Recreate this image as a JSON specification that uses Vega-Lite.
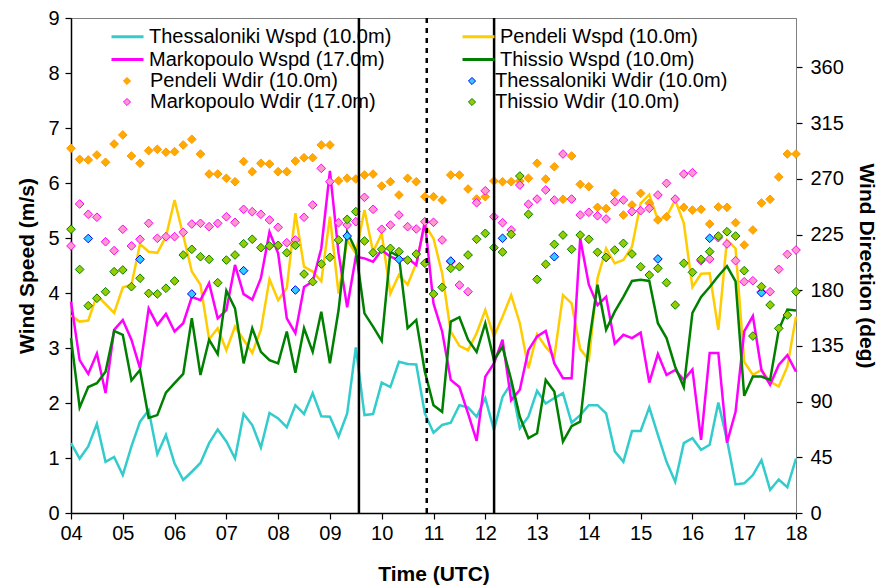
{
  "$schema": "https://vega.github.io/schema/vega-lite/v6.json",
  "width": 725,
  "height": 495,
  "autosize": {"type": "none"},
  "padding": {"left": 71, "top": 18, "right": 87, "bottom": 73},
  "background": "white",
  "config": {
    "font": "Liberation Sans",
    "view": {"stroke": "#808080", "strokeWidth": 1},
    "axis": {
      "labelFont": "Liberation Sans", "labelFontSize": 20, "labelColor": "black",
      "titleFont": "Liberation Sans", "titleFontSize": 21, "titleFontWeight": "bold", "titleColor": "black",
      "grid": false, "tickColor": "black", "domainColor": "black", "tickSize": 6,
      "domainWidth": 1.5, "tickWidth": 1.2, "labelFlush": false, "labelOverlap": false
    },
    "legend": {"labelFont": "Liberation Sans", "labelFontSize": 20, "labelColor": "black", "padding": 0, "rowPadding": 1, "labelLimit": 500}
  },
  "datasets": {
    "wind": [
      {"t":4,"TW":1.27,"PW":3.59,"MW":3.84,"HW":3.18,"PD":294.7,"MD":215.8,"HD":229.3},
      {"t":4.167,"TW":0.99,"PW":3.48,"MW":2.78,"HW":1.92,"PD":285.8,"MD":249.7,"HD":196.8},
      {"t":4.333,"TW":1.21,"PW":3.5,"MW":2.53,"HW":2.29,"PD":285.3,"MD":241.4,"TD":221.8,"HD":167.5},
      {"t":4.5,"TW":1.62,"PW":3.96,"MW":2.9,"HW":2.36,"PD":289.3,"MD":239,"HD":173.5},
      {"t":4.667,"TW":0.93,"PW":3.8,"MW":2.18,"HW":2.57,"PD":283.4,"MD":219.2,"HD":178.8},
      {"t":4.833,"TW":1.02,"PW":3.64,"MW":3.33,"HW":3.31,"PD":298.2,"MD":212,"HD":195},
      {"t":5,"TW":0.69,"PW":4.1,"MW":3.51,"HW":3.24,"PD":305.5,"MD":229.3,"HD":196.4},
      {"t":5.167,"TW":1.21,"PW":4.15,"MW":3.15,"HW":2.41,"PD":288.5,"MD":215.8,"HD":182.9},
      {"t":5.333,"TW":1.66,"PW":4.89,"MW":2.63,"HW":2.6,"PD":282.6,"MD":221.2,"TD":205,"HD":189.7},
      {"t":5.5,"TW":1.87,"PW":4.75,"MW":3.72,"HW":1.73,"PD":292.8,"MD":234.1,"HD":177.5},
      {"t":5.667,"TW":1.07,"PW":4.73,"MW":3.42,"HW":1.78,"PD":293.9,"MD":222,"HD":177},
      {"t":5.833,"TW":1.42,"PW":5.02,"MW":3.62,"HW":2.19,"PD":291.5,"MD":223.3,"HD":181.6},
      {"t":6,"TW":0.9,"PW":5.69,"MW":3.3,"HW":2.36,"PD":292,"MD":223.3,"HD":187.5},
      {"t":6.167,"TW":0.6,"PW":5.05,"MW":3.45,"HW":2.53,"PD":297.4,"MD":226.8,"HD":208.5},
      {"t":6.333,"TW":0.75,"PW":4.39,"MW":3.93,"HW":3.54,"PD":302,"MD":233.5,"TD":177,"HD":213.1},
      {"t":6.5,"TW":0.91,"PW":4.15,"MW":3.87,"HW":2.51,"PD":290.1,"MD":234.1,"HD":207.1},
      {"t":6.667,"TW":1.27,"PW":3.16,"MW":4.18,"HW":3.15,"PD":273.9,"MD":231.4,"HD":205},
      {"t":6.833,"TW":1.52,"PW":3.36,"MW":3.54,"HW":2.89,"PD":273.9,"MD":234.1,"HD":186.1},
      {"t":7,"TW":1.3,"PW":2.96,"MW":3.69,"HW":4.04,"PD":270.5,"MD":239.4,"HD":204.4},
      {"t":7.167,"TW":0.99,"PW":3.39,"MW":4.51,"HW":3.72,"PD":267.7,"MD":234.9,"HD":208.5},
      {"t":7.333,"TW":1.8,"PW":3.15,"MW":3.98,"HW":2.72,"PD":284,"MD":245.4,"TD":195.8,"HD":217.6},
      {"t":7.5,"TW":1.6,"PW":2.91,"MW":3.88,"HW":3.36,"PD":275.8,"MD":243.5,"HD":221.2},
      {"t":7.667,"TW":1.19,"PW":3.33,"MW":4.27,"HW":2.93,"PD":282.6,"MD":241.4,"HD":214.4},
      {"t":7.833,"TW":1.82,"PW":4.25,"MW":5.11,"HW":2.78,"PD":282,"MD":236.8,"HD":215.8},
      {"t":8,"TW":1.72,"PW":3.87,"MW":4.72,"HW":2.72,"PD":275.8,"MD":230.9,"HD":216.3},
      {"t":8.167,"TW":1.56,"PW":4.09,"MW":3.54,"HW":3.3,"PD":275.8,"MD":218.4,"HD":210.3},
      {"t":8.333,"TW":1.96,"PW":5.45,"MW":3.27,"HW":2.55,"PD":284.4,"MD":220.6,"TD":180.2,"HD":216.3},
      {"t":8.5,"TW":1.8,"PW":4.48,"MW":4.11,"HW":3.36,"PD":287.1,"MD":239,"HD":193.1},
      {"t":8.667,"TW":2.18,"PW":4.39,"MW":4.21,"HW":2.93,"PD":287.1,"MD":248.9,"HD":186.9},
      {"t":8.833,"TW":1.76,"PW":4.21,"MW":4.81,"HW":3.66,"PD":297.4,"MD":278.5,"HD":201.2},
      {"t":9,"TW":1.75,"PW":5.39,"MW":6.22,"HW":2.72,"PD":297.4,"MD":267.7,"HD":206.6},
      {"t":9.167,"TW":1.39,"PW":3.99,"MW":4.72,"HW":3.69,"PD":268.5,"MD":234.6,"HD":220.6},
      {"t":9.333,"TW":1.81,"PW":4.96,"MW":3.74,"HW":5.11,"PD":270.5,"MD":232.7,"TD":223.8,"HD":237.3},
      {"t":9.5,"TW":3.01,"PW":4.72,"MW":4.66,"HW":4.78,"PD":269.9,"MD":235.4,"HD":243.5},
      {"t":9.667,"TW":1.78,"PW":5.51,"MW":4.63,"HW":3.63,"PD":273.1,"MD":255.1,"HD":219.8},
      {"t":9.833,"TW":1.8,"PW":4.75,"MW":4.57,"HW":3.39,"PD":273.9,"MD":245.4,"HD":210.3},
      {"t":10,"TW":2.37,"PW":5.08,"MW":4.78,"HW":3.13,"PD":264.2,"MD":229.3,"HD":213.1},
      {"t":10.167,"TW":2.29,"PW":3.99,"MW":4.66,"HW":4.75,"PD":267.7,"MD":232.7,"HD":213.9},
      {"t":10.333,"TW":2.75,"PW":4.33,"MW":4.6,"HW":4.66,"PD":257,"MD":240.8,"TD":205,"HD":211.2},
      {"t":10.5,"TW":2.71,"PW":4.15,"MW":4.63,"HW":3.36,"PD":270.5,"MD":231.4,"HD":204.4},
      {"t":10.667,"TW":2.7,"PW":4.54,"MW":4.51,"HW":3.51,"PD":267.7,"MD":229.5,"HD":209.3},
      {"t":10.833,"TW":1.81,"PW":5.24,"MW":5.3,"HW":2.57,"PD":255.6,"MD":235.4,"HD":201.8},
      {"t":11,"TW":1.46,"PW":4.99,"MW":3.81,"HW":1.96,"PD":255.6,"MD":234.9,"HD":177},
      {"t":11.167,"TW":1.6,"PW":4.36,"MW":3.3,"HW":1.84,"PD":252.9,"MD":220.6,"HD":182.4},
      {"t":11.333,"TW":1.64,"PW":3.3,"MW":2.42,"HW":3.48,"PD":273.1,"MD":203.1,"TD":203.6,"HD":197.7},
      {"t":11.5,"TW":1.96,"PW":3.04,"MW":2.29,"HW":3.56,"PD":273.1,"MD":184.2,"HD":199},
      {"t":11.667,"TW":1.92,"PW":2.96,"MW":1.81,"HW":3.15,"PD":261.8,"MD":178.8,"HD":208.5},
      {"t":11.833,"TW":1.75,"PW":3.27,"MW":1.31,"HW":2.93,"PD":253.7,"MD":250.7,"HD":221.2},
      {"t":12,"TW":2.09,"PW":3.69,"MW":2.48,"HW":3.45,"PD":255.6,"MD":260.4,"HD":226},
      {"t":12.167,"TW":1.51,"PW":3.21,"MW":2.72,"HW":2.78,"PD":268.3,"MD":239.4,"HD":214.4},
      {"t":12.333,"TW":2.11,"PW":3.57,"MW":3.15,"HW":3.02,"PD":267.7,"MD":234.6,"TD":222,"HD":210.9},
      {"t":12.5,"TW":2.36,"PW":3.96,"MW":2.05,"HW":2.42,"PD":267.7,"MD":228.7,"HD":225.2},
      {"t":12.667,"TW":1.54,"PW":3.45,"MW":2.24,"HW":1.75,"PD":268.3,"MD":265,"HD":272.3},
      {"t":12.833,"TW":1.75,"PW":2.63,"MW":2.96,"HW":1.36,"PD":270.5,"MD":249.5,"HD":241.4},
      {"t":13,"TW":2.22,"PW":3.25,"MW":3.21,"HW":1.45,"PD":282.6,"MD":253.7,"HD":188.8},
      {"t":13.167,"TW":1.99,"PW":3.02,"MW":3.31,"HW":2.42,"PD":269.9,"MD":261,"HD":201},
      {"t":13.333,"TW":2.09,"PW":2.84,"MW":2.72,"HW":2.21,"PD":279.8,"MD":252.9,"TD":207.1,"HD":217.1},
      {"t":13.5,"TW":2.18,"PW":3.96,"MW":2.45,"HW":1.3,"PD":253.5,"MD":290.1,"HD":224.6},
      {"t":13.667,"TW":1.64,"PW":3.81,"MW":2.45,"HW":1.58,"PD":288.5,"MD":253.7,"HD":213.1},
      {"t":13.833,"TW":1.78,"PW":2.98,"MW":4.99,"HW":1.66,"PD":265.6,"MD":240.8,"HD":224.6},
      {"t":14,"TW":1.96,"PW":2.78,"MW":4.15,"HW":3.08,"PD":263.7,"MD":243,"HD":221.2},
      {"t":14.167,"TW":1.96,"PW":4.27,"MW":3.78,"HW":4.15,"PD":247,"MD":240.2,"HD":210.7},
      {"t":14.333,"TW":1.81,"PW":4.81,"MW":3.93,"HW":3.33,"PD":246,"MD":237.6,"TD":206.6,"HD":206.6},
      {"t":14.5,"TW":1.12,"PW":4.54,"MW":3.08,"HW":3.66,"PD":258.3,"MD":251.6,"HD":212.5},
      {"t":14.667,"TW":0.93,"PW":4.6,"MW":3.24,"HW":3.93,"PD":240.8,"MD":252.9,"HD":217.9},
      {"t":14.833,"TW":1.49,"PW":4.84,"MW":3.18,"HW":4.22,"PD":248.9,"MD":243.5,"HD":209.3},
      {"t":15,"TW":1.49,"PW":5.63,"MW":3.28,"HW":4.24,"PD":258.3,"MD":244.3,"HD":199},
      {"t":15.167,"TW":1.92,"PW":5.79,"MW":2.37,"HW":4.22,"PD":250.3,"MD":246.2,"HD":192.3},
      {"t":15.333,"TW":1.42,"PW":5.33,"MW":2.89,"HW":3.45,"PD":236.8,"MD":257,"TD":205.3,"HD":197.7},
      {"t":15.5,"TW":0.93,"PW":5.39,"MW":2.51,"HW":3.18,"PD":239.4,"MD":266.4,"HD":186.1},
      {"t":15.667,"TW":0.57,"PW":5.69,"MW":2.6,"HW":2.66,"MD":253.7,"HD":168.1},
      {"t":15.833,"TW":1.27,"PW":5.27,"MW":2.42,"HW":2.29,"PD":247,"MD":273.9,"HD":201.8},
      {"t":16,"TW":1.36,"PW":4.11,"MW":2.61,"HW":3.64,"PD":244.8,"MD":275,"HD":194.5},
      {"t":16.167,"TW":1.15,"PW":4.35,"MW":1.33,"HW":3.93,"PD":245.4,"MD":203.9,"HD":205},
      {"t":16.333,"TW":1.24,"PW":4.36,"MW":2.91,"HW":4.11,"PD":233.5,"MD":205.3,"TD":222,"HD":211.2},
      {"t":16.5,"TW":2.01,"PW":3.33,"MW":2.91,"HW":4.31,"PD":247.3,"MD":222.5,"HD":223.8},
      {"t":16.667,"TW":1.33,"PW":4.96,"MW":1.28,"HW":4.49,"PD":247,"MD":217.4,"HD":227.3},
      {"t":16.833,"TW":0.52,"PW":4.81,"MW":1.84,"HW":4.21,"PD":234.6,"MD":203.9,"HD":223.8},
      {"t":17,"TW":0.54,"PW":2.75,"MW":3.3,"HW":2.13,"PD":216.6,"MD":186.9,"HD":195.8},
      {"t":17.167,"TW":0.69,"PW":2.51,"MW":3.58,"HW":2.48,"PD":228.7,"MD":187.7,"HD":143},
      {"t":17.333,"TW":0.96,"PW":2.6,"MW":2.6,"HW":2.48,"PD":250.5,"MD":178.8,"TD":178,"HD":182.9},
      {"t":17.5,"TW":0.42,"PW":2.39,"MW":2.33,"HW":2.42,"PD":253.5,"MD":178.8,"HD":168.1},
      {"t":17.667,"TW":0.61,"PW":2.3,"MW":2.69,"HW":3.33,"PD":271.5,"MD":196.9,"HD":149.2},
      {"t":17.833,"TW":0.47,"PW":2.66,"MW":2.87,"HW":3.7,"PD":290.1,"MD":209,"HD":160},
      {"t":18,"TW":0.99,"PW":3.57,"MW":2.57,"HW":3.68,"PD":290.1,"MD":212.5,"HD":178.8}
    ],
    "events": [
      {"t": 9.56, "style": "solid"},
      {"t": 10.87, "style": "dashed"},
      {"t": 12.17, "style": "solid"}
    ]
  },
  "layer": [
    {
      "data": {"name": "wind"},
      "transform": [{"fold": ["TW", "PW", "MW", "HW"], "as": ["series", "value"]}],
      "mark": {"type": "line", "strokeWidth": 2.5},
      "encoding": {
        "x": {
          "field": "t", "type": "quantitative",
          "scale": {"domain": [4, 18], "nice": false, "zero": false},
          "axis": {"values": [4,5,6,7,8,9,10,11,12,13,14,15,16,17,18], "format": "02d", "title": "Time (UTC)", "labelPadding": 4, "titlePadding": 20}
        },
        "y": {
          "field": "value", "type": "quantitative",
          "scale": {"domain": [0, 9], "nice": false},
          "axis": {"orient": "left", "values": [0,1,2,3,4,5,6,7,8,9], "title": "Wind Speed (m/s)", "labelPadding": 6, "titlePadding": 10}
        },
        "stroke": {
          "field": "series", "type": "nominal",
          "scale": {"domain": ["TW", "MW", "PW", "HW"], "range": ["#33CCCC", "#FF00FF", "#FFCC00", "#008000"]},
          "legend": {
            "orient": "none", "legendX": 45, "legendY": 7,
            "columns": 2, "columnPadding": 64, "title": null,
            "symbolType": "M-1.6,0L1.6,0", "symbolSize": 400, "symbolStrokeWidth": 3, "labelOffset": 10,
            "labelExpr": "datum.label == 'TW' ? 'Thessaloniki Wspd (10.0m)' : datum.label == 'PW' ? 'Pendeli Wspd (10.0m)' : datum.label == 'MW' ? 'Markopoulo Wspd (17.0m)' : 'Thissio Wspd (10.0m)'"
          }
        }
      }
    },
    {
      "data": {"name": "wind"},
      "transform": [{"fold": ["PD", "MD", "TD", "HD"], "as": ["series", "value"]}],
      "mark": {"type": "point", "shape": "diamond", "filled": true, "size": 75, "strokeWidth": 1, "opacity": 1},
      "encoding": {
        "x": {"field": "t", "type": "quantitative"},
        "y": {
          "field": "value", "type": "quantitative",
          "scale": {"domain": [0, 400], "nice": false},
          "axis": {"orient": "right", "values": [0,45,90,135,180,225,270,315,360], "title": "Wind Direction (deg)", "labelPadding": 8, "titlePadding": 12, "domainColor": "#808080", "domainWidth": 1}
        },
        "stroke": {
          "field": "series", "type": "nominal",
          "scale": {"domain": ["PD", "MD", "TD", "HD"], "range": ["#FF9900", "#FF00FF", "#0000FF", "#008000"]},
          "legend": {
            "orient": "none", "legendX": 46, "legendY": 53,
            "columns": 2, "columnPadding": 86, "title": null,
            "symbolType": "diamond", "symbolSize": 50, "symbolStrokeWidth": 1, "labelOffset": 13,
            "labelExpr": "datum.label == 'PD' ? 'Pendeli Wdir (10.0m)' : datum.label == 'TD' ? 'Thessaloniki Wdir (10.0m)' : datum.label == 'MD' ? 'Markopoulo Wdir (17.0m)' : 'Thissio Wdir (10.0m)'"
          }
        },
        "fill": {
          "field": "series", "type": "nominal",
          "scale": {"domain": ["PD", "MD", "TD", "HD"], "range": ["#FFAA00", "#FF99CC", "#33CCFF", "#99CC00"]},
          "legend": {
            "orient": "none", "legendX": 46, "legendY": 53,
            "columns": 2, "columnPadding": 86, "title": null,
            "symbolType": "diamond", "symbolSize": 50, "symbolStrokeWidth": 1, "labelOffset": 13,
            "labelExpr": "datum.label == 'PD' ? 'Pendeli Wdir (10.0m)' : datum.label == 'TD' ? 'Thessaloniki Wdir (10.0m)' : datum.label == 'MD' ? 'Markopoulo Wdir (17.0m)' : 'Thissio Wdir (10.0m)'"
          }
        }
      }
    },
    {
      "data": {"name": "events"},
      "mark": {"type": "rule", "color": "black", "strokeWidth": 2.5},
      "encoding": {
        "x": {"field": "t", "type": "quantitative"},
        "strokeDash": {
          "field": "style", "type": "nominal",
          "scale": {"domain": ["solid", "dashed"], "range": [[1, 0], [5, 5]]},
          "legend": null
        }
      }
    }
  ],
  "resolve": {"scale": {"y": "independent", "stroke": "independent", "fill": "independent"}}
}
